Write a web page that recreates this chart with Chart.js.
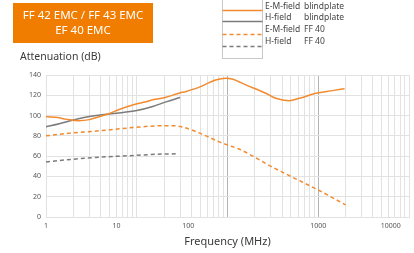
<!DOCTYPE html>
<html>
<head>
<meta charset="utf-8">
<script src="https://cdn.jsdelivr.net/npm/chart.js@4/dist/chart.umd.min.js"></script>
<style>
  html, body { margin: 0; padding: 0; background: #fff; }
  canvas { display: block; }
</style>
</head>
<body>
<canvas id="myChart" width="414" height="253"></canvas>
<script>
// legend names: field type + variant
const seriesNames = ['E-M-field', 'H-field', 'E-M-field', 'H-field'];
const seriesVariants = ['blindplate', 'blindplate', 'FF 40', 'FF 40'];

// frequency (MHz) / attenuation (dB)
const emBlindFreq = [1, 1.35, 1.65, 2.3, 3, 3.9, 5, 6.4, 9, 12.6, 15, 21, 29, 35, 49, 63, 74, 96, 112, 161, 264, 340, 475, 620, 940, 1440, 1950];
const emBlindDb = [99, 98, 96.5, 95, 96, 99, 102, 106, 110.5, 113.7, 115.5, 118, 122, 123.8, 128, 132.5, 135, 136.7, 136, 130, 122, 117, 114.7, 117, 122, 124.6, 126.5];

const hBlindFreq = [1, 1.4, 2, 3, 4, 6, 10, 15, 21, 30];
const hBlindDb = [89, 92, 95.7, 99, 100.6, 102.3, 105, 109, 113.5, 117.8];

const emFf40Freq = [1, 2, 3.9, 10, 16, 26, 30, 41, 58, 80, 100, 134, 173, 300, 500, 1000, 2000];
const emFf40Db = [80, 83, 85, 88.5, 89.8, 90, 89.3, 85.5, 80, 74.3, 71, 67, 62, 50, 40, 26.6, 12];

const hFf40Freq = [1, 2, 4, 10, 16, 28];
const hFf40Db = [54.3, 57, 59, 60.8, 61.8, 62.3];

// axis ticks
const yTicks = [0, 20, 40, 60, 80, 100, 120, 140];
const xTickLabels = ['1', '10', '100', '1000', '10000'];
const xTickLabelAt = [1, 6, 37, 1000, 6300];

const orange = '#f28b2f';
const grey = '#7b7b7b';

const toPoints = (fs, ds) => fs.map((f, i) => ({ x: f, y: ds[i] }));

const gridValues = [];
[1, 10, 100, 1000].forEach(d => {
    for (let m = 1; m <= 9; m++) gridValues.push(m * d);
});
gridValues.push(10000);

const labelOnly = xTickLabelAt.filter(v => !gridValues.includes(v));

const lineSet = (i, pts, color, dash) => ({
    label: seriesNames[i] + ' ' + seriesVariants[i],
    data: pts,
    borderColor: color,
    borderWidth: 1.5,
    borderDash: dash,
    pointRadius: 0,
    cubicInterpolationMode: 'monotone',
    fill: false
});

const decorations = {
    id: 'decorations',
    afterDraw(chart) {
        const c = chart.ctx;
        c.save();

        // orange title box
        c.fillStyle = '#f07d00';
        c.fillRect(13, 3, 140, 40);
        c.fillStyle = '#fff';
        c.font = '11.5px "Noto Sans"';
        c.textAlign = 'center';
        c.textBaseline = 'middle';
        c.fillText('FF 42 EMC / FF 43 EMC', 83, 16);
        c.fillText('EF 40 EMC', 83, 30.5);

        // y title
        c.fillStyle = '#3a3a3a';
        c.font = '10.5px "Noto Sans"';
        c.textAlign = 'left';
        c.fillText('Attenuation (dB)', 20, 57);

        // legend
        c.strokeStyle = '#c8c8c8';
        c.lineWidth = 1;
        c.strokeRect(222.5, -1, 40, 59.5);
        const lineYs = [10.5, 21.5, 34.5, 46.5];
        const textYs = [6.5, 18, 30, 41.5];
        chart.data.datasets.forEach((ds, i) => {
            c.strokeStyle = ds.borderColor;
            c.lineWidth = ds.borderWidth;
            c.setLineDash(ds.borderDash || []);
            c.beginPath();
            c.moveTo(222.5, lineYs[i]);
            c.lineTo(262.5, lineYs[i]);
            c.stroke();
            c.setLineDash([]);
            c.fillStyle = '#444';
            c.font = '8.5px "Noto Sans"';
            c.fillText(seriesNames[i], 265, textYs[i]);
            c.fillText(seriesVariants[i], 304, textYs[i]);
        });
        c.restore();
    }
};

const ctx = document.getElementById('myChart').getContext('2d');
let myChart = new Chart(ctx, {
    type: 'line',
    data: {
        datasets: [
            lineSet(0, toPoints(emBlindFreq, emBlindDb), orange, []),
            lineSet(1, toPoints(hBlindFreq, hBlindDb), grey, []),
            lineSet(2, toPoints(emFf40Freq, emFf40Db), orange, [4, 3]),
            lineSet(3, toPoints(hFf40Freq, hFf40Db), grey, [4, 3])
        ]
    },
    options: {
        responsive: false,
        animation: false,
        layout: { padding: { left: 0, top: 75, right: 5, bottom: 0 } },
        plugins: {
            legend: { display: false },
            tooltip: { enabled: false }
        },
        scales: {
            x: {
                type: 'logarithmic',
                min: 1,
                max: 10000,
                afterBuildTicks: scale => {
                    const vals = gridValues.concat(labelOnly).sort((a, b) => a - b);
                    scale.ticks = vals.map(v => ({ value: v }));
                },
                afterFit: scale => { scale.height = 36; },
                ticks: {
                    autoSkip: false,
                    maxRotation: 0,
                    minRotation: 0,
                    padding: 5,
                    color: '#555',
                    font: { family: 'Noto Sans', size: 7 },
                    callback: value => {
                        const k = xTickLabelAt.indexOf(value);
                        return k >= 0 ? xTickLabels[k] : '';
                    }
                },
                grid: {
                    drawTicks: false,
                    color: c => {
                        const v = c.tick ? c.tick.value : null;
                        if (labelOnly.includes(v)) return 'rgba(0,0,0,0)';
                        return (v === 100 || v === 1000) ? '#b4b4b4' : '#e2e2e2';
                    }
                },
                border: { color: '#e2e2e2' },
                title: {
                    display: true,
                    text: 'Frequency (MHz)',
                    color: '#3a3a3a',
                    font: { family: 'Noto Sans', size: 11 },
                    padding: { top: 4, bottom: 5 }
                }
            },
            y: {
                min: 0,
                max: 140,
                afterBuildTicks: scale => {
                    scale.ticks = yTicks.map(v => ({ value: v }));
                },
                afterFit: scale => { scale.width = 46; },
                ticks: {
                    padding: 5,
                    color: '#555',
                    font: { family: 'Noto Sans', size: 7 }
                },
                grid: { drawTicks: false, color: '#e2e2e2' },
                border: { color: '#e2e2e2' }
            }
        }
    },
    plugins: [decorations]
});
</script>
</body>
</html>
